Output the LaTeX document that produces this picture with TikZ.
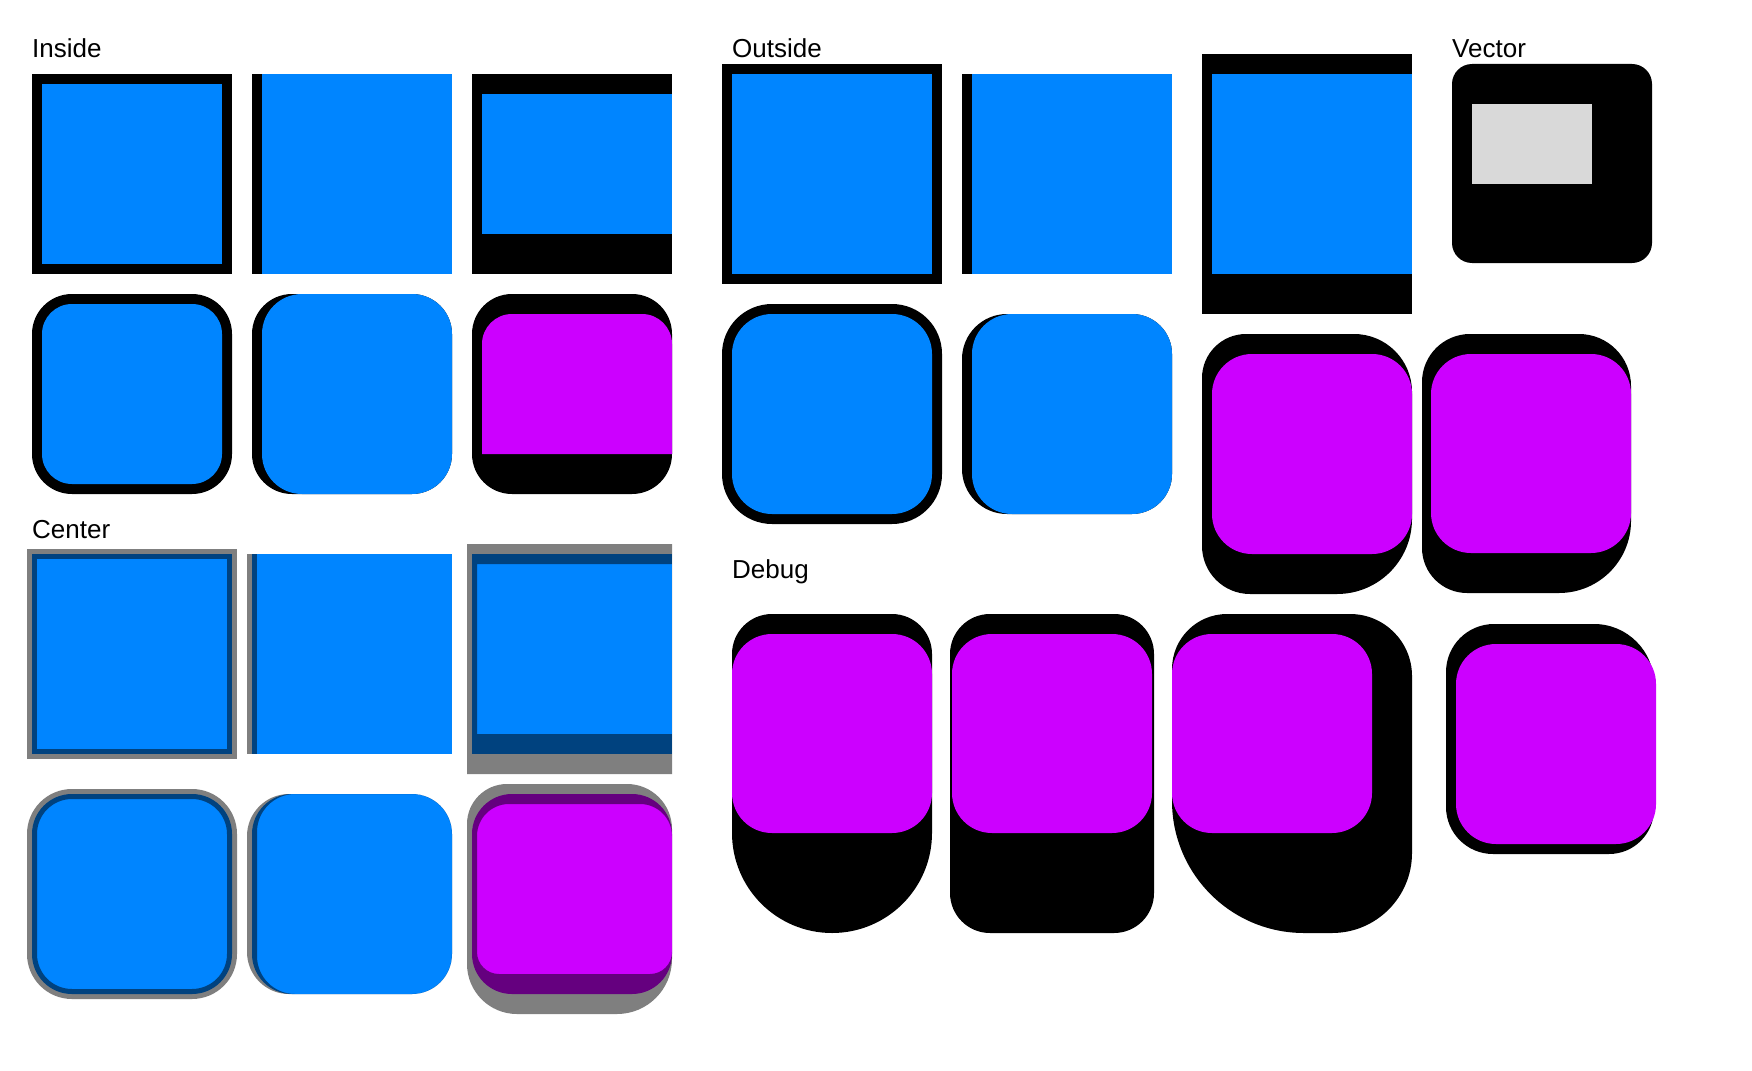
\documentclass[tikz,border=0pt]{standalone}
\usepackage{fontspec}
\setmainfont{Liberation Sans}
\usepackage{tikz}
\definecolor{boxblue}{RGB}{0,133,255}
\definecolor{boxmag}{RGB}{204,0,255}
\definecolor{vecgray}{RGB}{217,217,217}
% x1 y1 x2 y2 (y counted downwards), then corner radii tl tr br bl
\newcommand{\roundbox}[8]{(#1+#5,-#2) -- (#3-#6,-#2) arc[start angle=90,end angle=0,radius=#6] -- (#3,-#4+#7) arc[start angle=0,end angle=-90,radius=#7] -- (#1+#8,-#4) arc[start angle=-90,end angle=-180,radius=#8] -- (#1,-#2-#5) arc[start angle=180,end angle=90,radius=#5] -- cycle}

\begin{document}
\begin{tikzpicture}[
    x=1pt, y=1pt,
    lbl/.style={anchor=base west, inner sep=0pt, font=\fontsize{26}{31}\selectfont},
    ink/.style={fill=black},
    bluefill/.style={fill=boxblue},
    magfill/.style={fill=boxmag},
    halfink/.style={black, opacity=0.5}
]
\fill[white] (0,0) rectangle (1752,-1070);
\useasboundingbox (0,0) rectangle (1752,-1070);

\node[lbl] (inside) at (32,-58) {Inside};
\node[lbl] (center) at (32,-538) {Center};
\node[lbl] (outside) at (732,-58) {Outside};
\node[lbl] (vector) at (1452,-58) {Vector};
\node[lbl] (debug) at (732,-578) {Debug};

% inside
\fill[ink] (32,-74) rectangle (232,-274);
\fill[bluefill] (42,-84) rectangle (222,-264);
\fill[ink] (252,-74) rectangle (262,-274);
\fill[bluefill] (262,-74) rectangle (452,-274);
\fill[ink] (472,-74) rectangle (672,-274);
\fill[bluefill] (482,-94) rectangle (672,-234);
\fill[ink] \roundbox{32}{294}{232}{494}{40}{40}{40}{40};
\fill[bluefill] \roundbox{42}{304}{222}{484}{30}{30}{30}{30};
\fill[ink] \roundbox{252}{294}{452}{494}{40}{40}{40}{40};
\fill[bluefill] \roundbox{262}{294}{452}{494}{40}{40}{40}{40};
\fill[ink] \roundbox{472}{294}{672}{494}{40}{40}{40}{40};
\fill[magfill] \roundbox{482}{314}{672}{454}{30}{30}{0.01}{0.01};

% center
\fill[bluefill] (32,-554) rectangle (232,-754);
\draw[halfink, line width=10pt] (32,-554) rectangle (232,-754);
\fill[bluefill] (252,-554) rectangle (452,-754);
\fill[halfink] (247,-554) rectangle (257,-754);
\fill[bluefill] (472,-554) rectangle (672,-754);
\fill[halfink, even odd rule] (467,-544) rectangle (672,-774) (477,-564) rectangle (672,-734);
\fill[bluefill] \roundbox{32}{794}{232}{994}{40}{40}{40}{40};
\draw[halfink, line width=10pt] \roundbox{32}{794}{232}{994}{40}{40}{40}{40};
\fill[bluefill] \roundbox{252}{794}{452}{994}{40}{40}{40}{40};
\begin{scope}
  \clip \roundbox{247}{794}{452}{994}{42}{40}{40}{42};
  \fill[halfink, even odd rule] (240,-780) rectangle (460,-1000) \roundbox{257}{794}{452}{994}{38}{40}{40}{38};
\end{scope}
\fill[magfill] \roundbox{472}{794}{672}{994}{40}{40}{40}{40};
\begin{scope}
  \clip \roundbox{467}{784}{672}{1014}{40}{45}{55}{50};
  \fill[halfink, even odd rule] (460,-775) rectangle (680,-1020) \roundbox{477}{804}{672}{974}{32}{32}{22}{22};
\end{scope}

% outside
\fill[ink] (722,-64) rectangle (942,-284);
\fill[bluefill] (732,-74) rectangle (932,-274);
\fill[ink] (962,-74) rectangle (972,-274);
\fill[bluefill] (972,-74) rectangle (1172,-274);
\fill[ink] (1202,-54) rectangle (1412,-314);
\fill[bluefill] (1212,-74) rectangle (1412,-274);
\fill[ink] \roundbox{722}{304}{942}{524}{50}{50}{50}{50};
\fill[bluefill] \roundbox{732}{314}{932}{514}{40}{40}{40}{40};
\fill[ink] \roundbox{962}{314}{1172}{514}{45}{40}{40}{45};
\fill[bluefill] \roundbox{972}{314}{1172}{514}{40}{40}{40}{40};
\fill[ink] \roundbox{1202}{334}{1412}{594}{44}{58}{75}{48};
\fill[magfill] \roundbox{1212}{354}{1412}{554}{40}{40}{40}{40};
\fill[ink] \roundbox{1422}{334}{1631}{593}{48}{52}{72}{45};
\fill[magfill] \roundbox{1431}{354}{1631}{553}{40}{40}{40}{40};

% vector
\fill[ink] \roundbox{1452}{64}{1652}{263}{20}{20}{20}{20};
\fill[vecgray] (1472,-104) rectangle (1592,-184);

% debug
\fill[ink] \roundbox{732}{614}{932}{933}{40}{40}{100}{100};
\fill[magfill] \roundbox{732}{634}{932}{833}{40}{40}{40}{40};
\fill[ink] \roundbox{950}{614}{1154}{933}{40}{40}{40}{40};
\fill[magfill] \roundbox{952}{634}{1152}{833}{40}{40}{40}{40};
\fill[ink] \roundbox{1172}{614}{1412}{933}{55}{62}{80}{132};
\fill[magfill] \roundbox{1172}{634}{1372}{833}{40}{40}{40}{40};
\fill[ink] \roundbox{1446}{624}{1654}{854}{48}{60}{45}{47};
\fill[magfill] \roundbox{1456}{644}{1656}{844}{40}{40}{40}{40};
\end{tikzpicture}
\end{document}
